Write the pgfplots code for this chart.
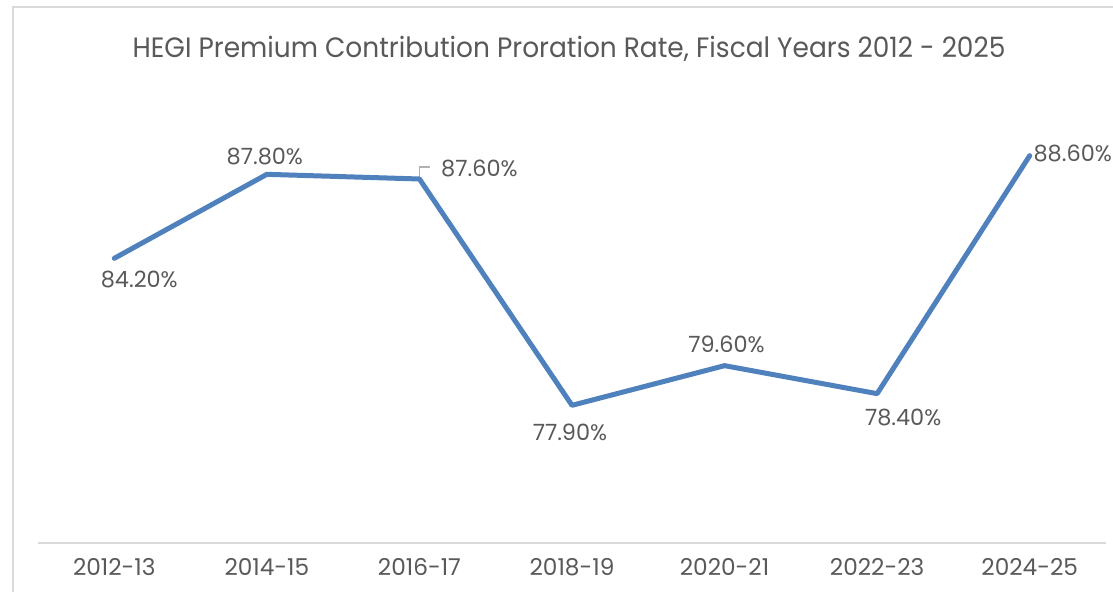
\documentclass[border=0pt]{standalone}
\usepackage{pgfplots}
\pgfplotsset{compat=1.18}
\usepackage{pgfplotstable}
\usepackage{fontspec}
\setmainfont{Poppins}
\definecolor{linec}{HTML}{4F81BD}
\definecolor{txt}{HTML}{595959}
\definecolor{grid}{HTML}{D9D9D9}
\pgfplotstableread{
x y dx dy
0 84.2 12.5 -10.5
1 87.8 -1 9
2 87.6 30 5.5
3 77.9 -1 -13.5
4 79.6 1 10.5
5 78.4 13 -12
6 88.6 21.5 1
}\datatable
\begin{document}
\begin{tikzpicture}
\useasboundingbox (-19pt,-24.5pt) rectangle (537.5pt,271.5pt);
\fill[white] (-19pt,-24.5pt) rectangle (537.5pt,271.5pt);
\draw[grid, line width=0.75pt] (-12.5pt,-40pt) rectangle (580pt,268pt);
\begin{axis}[
  at={(0,0)}, anchor=south west,
  scale only axis, width=534pt, height=210pt,
  xmin=-0.5, xmax=6.5, ymin=72, ymax=90,
  axis y line=none, axis x line*=bottom,
  x axis line style={grid, line width=0.75pt, -},
  xtick={0,...,6}, xticklabels={2012-13,2014-15,2016-17,2018-19,2020-21,2022-23,2024-25},
  major tick length=0pt,
  xticklabel style={font=\fontsize{11.6}{13}\selectfont, text=txt, yshift=-4pt},
  /pgf/number format/assume math mode=true,
  clip=false,
]
\draw[gray!60, line width=0.9pt] ([yshift=0.5pt]axis cs:2,87.6) -- ([yshift=6pt]axis cs:2,87.6) -- ([xshift=5.5pt,yshift=6pt]axis cs:2,87.6);
\addplot[linec, line width=2.5pt, line join=round, line cap=round,
  point meta=y,
  visualization depends on={\thisrow{dx} \as \dx},
  visualization depends on={\thisrow{dy} \as \dy},
  nodes near coords={\pgfmathprintnumber[fixed,fixed zerofill,precision=2,assume math mode=true]{\pgfplotspointmeta}\%},
  nodes near coords style={anchor=center, xshift=\dx pt, yshift=\dy pt, text=txt, font=\fontsize{11.2}{13}\selectfont, inner sep=0pt},
] table[x=x,y=y] {\datatable};
\end{axis}
\node[text=txt, font=\fontsize{14}{17}\selectfont, anchor=base, xscale=0.944] at (265.5pt,242.5pt) {HEGI Premium Contribution Proration Rate, Fiscal Years 2012 - 2025};
\end{tikzpicture}
\end{document}
